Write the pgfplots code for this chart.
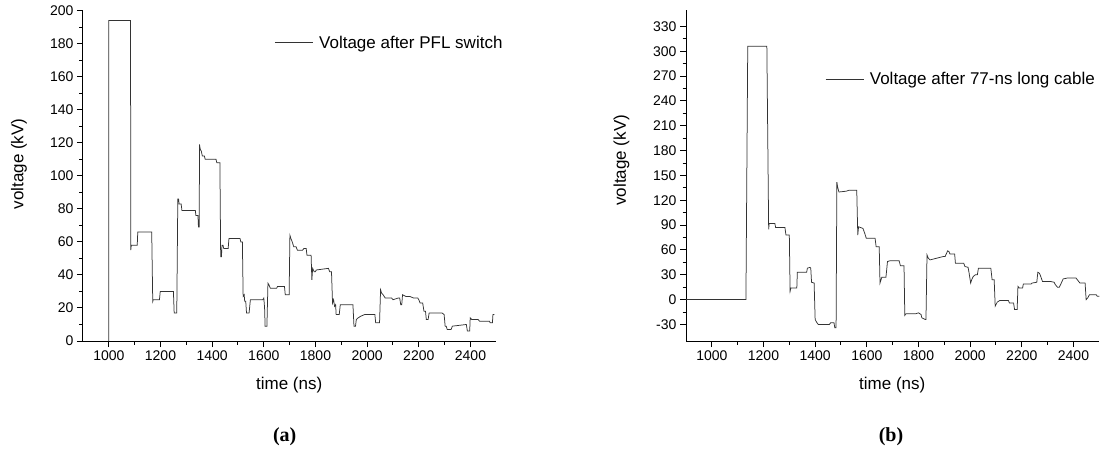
\documentclass[border=0pt]{standalone}
\usepackage{pgfplots}
\pgfplotsset{compat=1.18}
\usepackage{fontspec}
\setmainfont{Liberation Sans}
\newfontfamily\timesfont{Liberation Serif}

\pgfplotsset{
  mystyle/.style={
    scale only axis, width=413.3pt,
    xmin=900, xmax=2500,
    axis lines=left,
    axis line style={line width=1pt, -},
    every outer x axis line/.append style={-},
    every outer y axis line/.append style={-},
    tick align=outside,
    major tick length=6pt, minor tick length=3.5pt,
    every tick/.style={black, line width=1pt},
    minor x tick num=1, minor y tick num=1,
    xtick={1000,1200,...,2400},
    tick label style={font=\fontsize{14}{16}\selectfont},
    label style={font=\fontsize{17}{19}\selectfont},
    /pgf/number format/assume math mode=true,
    /pgf/number format/1000 sep={},
    xlabel={time (ns)}, ylabel={voltage (kV)},
    xlabel style={at={(axis description cs:0.499,-0.133)}, anchor=center},
    legend style={draw=none, fill=none, inner sep=0pt, outer sep=0pt, anchor=west,
      font=\fontsize{17}{19}\selectfont, nodes={inner sep=0pt}, column sep=6pt},
    legend image code/.code={\draw[#1] (0pt,0pt) -- (38pt,0pt);},
  },
  myline/.style={black!80, line width=0.75pt},
}

\begin{document}
\begin{tikzpicture}
\path[use as bounding box] (0,0) rectangle (1101pt,-448pt);

\begin{axis}[mystyle, at={(83pt,-341pt)}, anchor=south west,
  height=330.3pt, ymin=0, ymax=200, ytick={0,20,...,200},
  ylabel style={at={(axis description cs:-0.155,0.536)}, anchor=center},
  legend style={at={(axis cs:1641,180.6)}}]
\addplot[myline] coordinates {
(1000,0)(1000,194)(1084,194)(1085,55)(1087,58)(1110,58)(1112,66)(1166,66)
(1170,24)(1172,25)(1196,25)(1199,30)(1250,30)(1253,17)(1263,17)
(1267,86)(1270,86)(1272,83)(1280,83)(1283,79)(1335,79)(1337,76)(1345,76)
(1347,69)(1350,69)(1351,119)(1354,116)(1358,115)(1362,112)(1370,112)(1373,110)
(1415,110)(1418,108)(1430,108)(1433,51)(1436,51)(1438,58)(1442,58)(1445,56)
(1462,56)(1465,62)(1508,62)(1511,60)(1517,60)(1520,27)(1524,28)(1526,24)
(1530,24)(1533,17)(1543,17)(1548,25)(1596,25)(1600,26)(1603,20)(1605,9)
(1612,9)(1616,35)(1620,34)(1625,32)(1650,32)(1653,33)(1680,33)(1683,28)
(1698,28)(1701,64)(1705,62)(1710,60)(1716,57)(1725,57)(1730,55)(1750,55)
(1755,56)(1764,56)(1767,52)(1783,52)(1786,37)(1789,44)(1795,42)(1800,42)
(1803,43)(1850,44)(1855,42)(1862,42)(1866,23)(1870,25)(1874,21)(1878,22)
(1880,16)(1892,16)(1896,22)(1945,22)(1949,9)(1955,9)(1958,13)(1965,14)
(1975,15)(1990,16)(2030,16)(2033,11)(2048,11)(2052,31)(2056,29)(2062,28)
(2070,26)(2095,26)(2100,25)(2120,26)(2126,26)(2130,22)(2134,22)(2137,28)
(2150,27)(2165,27)(2180,26)(2196,26)(2200,25)(2205,23)(2215,23)(2220,18)
(2226,18)(2229,13)(2236,13)(2240,17)(2285,17)(2290,17)(2298,16)(2302,9)
(2306,9)(2310,7)(2325,7)(2330,9)(2384,10)(2388,6)(2397,6)(2399,14)
(2405,13)(2430,13)(2435,12)(2474,12)(2476,11)(2485,11)(2487,16)(2493,16)
};
\addlegendentry{Voltage after PFL switch}
\end{axis}

\begin{axis}[mystyle, at={(686pt,-341pt)}, anchor=south west,
  height=331.1pt, ymin=-50, ymax=350, ytick={-30,0,...,330},
  ylabel style={at={(axis description cs:-0.156,0.546)}, anchor=center},
  legend style={at={(axis cs:1438.6,265.9)}}]
\addplot[myline] coordinates {
(900,0)(1132,0)(1139,306)(1213,306)(1220,85)(1222,92)(1244,92)(1247,87)
(1283,87)(1287,78)(1300,78)(1303,10)(1306,14)(1329,14)(1331,33)(1367,33)
(1370,38)(1380,39)(1383,38)(1386,21)(1396,20)(1400,-24)(1405,-27)(1412,-30)
(1455,-30)(1460,-28)(1473,-28)(1476,-34)(1481,-34)(1484,142)(1487,136)(1492,130)
(1520,131)(1530,132)(1561,132)(1565,78)(1568,88)(1585,86)(1592,80)(1598,74)
(1632,74)(1636,64)(1648,64)(1651,20)(1655,24)(1658,27)(1674,27)(1680,46)
(1690,47)(1725,47)(1730,41)(1744,41)(1747,-19)(1752,-17)(1790,-17)(1800,-16)
(1810,-18)(1813,-22)(1826,-24)(1829,-24)(1833,54)(1838,50)(1845,48)(1870,50)
(1895,52)(1903,52)(1913,59)(1918,58)(1922,55)(1940,55)(1943,44)(1975,44)
(1980,40)(1992,39)(1996,32)(2002,20)(2006,24)(2012,28)(2020,30)(2028,30)
(2032,38)(2080,38)(2085,24)(2093,24)(2097,-8)(2105,-3)(2115,-1)(2148,-1)
(2152,-4)(2168,-4)(2172,-12)(2182,-12)(2185,16)(2190,14)(2203,14)(2206,19)
(2236,19)(2240,20)(2258,21)(2262,33)(2268,32)(2272,29)(2280,22)(2310,22)
(2325,21)(2330,18)(2338,15)(2345,15)(2350,18)(2360,25)(2375,26)(2410,26)
(2415,24)(2425,20)(2445,20)(2449,0)(2455,2)(2462,6)(2488,6)(2492,4)(2500,4)
};
\addlegendentry{Voltage after 77-ns long cable}
\end{axis}

\node[font=\timesfont\bfseries\fontsize{20}{22}\selectfont, anchor=center] at (284.7pt,-437pt) {(a)};
\node[font=\timesfont\bfseries\fontsize{20}{22}\selectfont, anchor=center] at (891pt,-437pt) {(b)};
\end{tikzpicture}
\end{document}
